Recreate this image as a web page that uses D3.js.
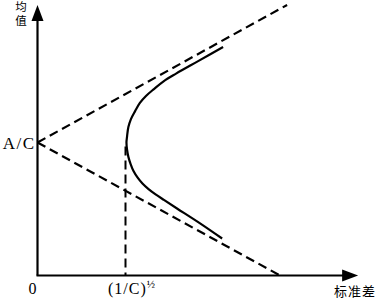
<!DOCTYPE html>
<html>
<head>
<meta charset="utf-8">
<script src="https://cdn.jsdelivr.net/npm/d3@7"></script>
<style>
  body { margin: 0; background: #fff; }
  svg { display: block; }
</style>
</head>
<body>
<div id="chart"></div>
<script>
// ---- data (abstract units: sigma on x, mean on y) ----
var meanAC = 5.0;          // A/C on the mean axis
var sigmaMin = 2.78;       // (1/C)^1/2, vertex of the frontier
var upperAsym = [[0, 5.0], [7.80, 10.17]];
var lowerAsym = [[0, 5.0], [7.58, 0]];
var frontier = [
  [5.80, 8.59], [5.02, 8.06], [4.33, 7.59], [3.95, 7.31], [3.64, 7.01],
  [3.39, 6.75], [3.20, 6.49], [3.05, 6.18], [2.92, 5.88], [2.84, 5.58],
  [2.80, 5.24], [2.78, 5.0], [2.80, 4.72], [2.84, 4.46], [2.91, 4.19],
  [3.00, 3.93], [3.13, 3.68], [3.28, 3.46], [3.47, 3.25], [3.69, 3.05],
  [3.95, 2.84], [4.36, 2.52], [5.08, 1.96], [5.77, 1.39]
];
var xLabel = "标准差", yLabel = "均值";
var originLabel = "0", acLabel = "A/C", sigLabel = "(1/C)", sigExp = "½";

// ---- layout ----
var width = 377, height = 301;
var x = d3.scaleLinear().domain([0, 10]).range([37.5, 357.5]);
var y = d3.scaleLinear().domain([0, 10]).range([275.5, 9.5]);

var svg = d3.select("#chart").append("svg")
  .attr("width", width)
  .attr("height", height);

var line = d3.line().x(function(d) { return x(d[0]); }).y(function(d) { return y(d[1]); });

// axes
svg.append("line")
  .attr("x1", x(0)).attr("y1", y(0))
  .attr("x2", x(0)).attr("y2", y(9.6))
  .attr("stroke", "#000").attr("stroke-width", 2.2);
svg.append("line")
  .attr("x1", x(0) - 1).attr("y1", y(0))
  .attr("x2", x(9.6)).attr("y2", y(0))
  .attr("stroke", "#000").attr("stroke-width", 2.2);

// arrow heads
var ty = y(10.17), tx = x(10.02);
svg.append("path")
  .attr("d", "M" + x(0) + "," + ty + "L" + (x(0) - 6) + "," + (ty + 16) + "L" + (x(0) + 6) + "," + (ty + 16) + "Z")
  .attr("fill", "#000");
svg.append("path")
  .attr("d", "M" + tx + "," + y(0) + "L" + (tx - 16) + "," + (y(0) - 6) + "L" + (tx - 16) + "," + (y(0) + 6) + "Z")
  .attr("fill", "#000");

// asymptotes
[upperAsym, lowerAsym].forEach(function(seg) {
  svg.append("path")
    .attr("d", line(seg))
    .attr("fill", "none")
    .attr("stroke", "#000")
    .attr("stroke-width", 2.2)
    .attr("stroke-dasharray", "9,5");
});

// vertical dashed line at sigma min
svg.append("path")
  .attr("d", line([[sigmaMin - 0.03, meanAC - 0.15], [sigmaMin - 0.03, 0]]))
  .attr("fill", "none")
  .attr("stroke", "#000")
  .attr("stroke-width", 2)
  .attr("stroke-dasharray", "9,5");

// frontier
svg.append("path")
  .attr("d", line.curve(d3.curveCatmullRom.alpha(0.5))(frontier))
  .attr("fill", "none")
  .attr("stroke", "#000")
  .attr("stroke-width", 2.2);

// labels
var serif = "'Liberation Serif', 'DejaVu Serif', serif";
var cjk = "'Noto Sans CJK SC', sans-serif";

svg.append("text")
  .attr("x", x(0) - 2).attr("y", y(meanAC) + 6)
  .attr("text-anchor", "end")
  .attr("font-family", serif).attr("font-size", 17)
  .attr("letter-spacing", 1.5)
  .text(acLabel);

svg.append("text")
  .attr("x", 32.5).attr("y", 294)
  .attr("text-anchor", "middle")
  .attr("font-family", serif).attr("font-size", 16)
  .text(originLabel);

var st = svg.append("text")
  .attr("x", 108).attr("y", 293.5)
  .attr("font-family", serif).attr("font-size", 16)
  .attr("letter-spacing", 1)
  .text(sigLabel);
st.append("tspan")
  .attr("font-size", 11).attr("dy", -6)
  .attr("letter-spacing", 0)
  .text(sigExp);

svg.append("text")
  .attr("x", 355).attr("y", 295.5)
  .attr("text-anchor", "middle")
  .attr("font-family", cjk).attr("font-size", 13)
  .attr("letter-spacing", 1)
  .text(xLabel);

svg.append("text")
  .attr("x", 21).attr("y", 1)
  .attr("font-family", cjk).attr("font-size", 11.5)
  .style("writing-mode", "vertical-rl")
  .style("text-orientation", "upright")
  .attr("letter-spacing", 2)
  .text(yLabel);
</script>
</body>
</html>
